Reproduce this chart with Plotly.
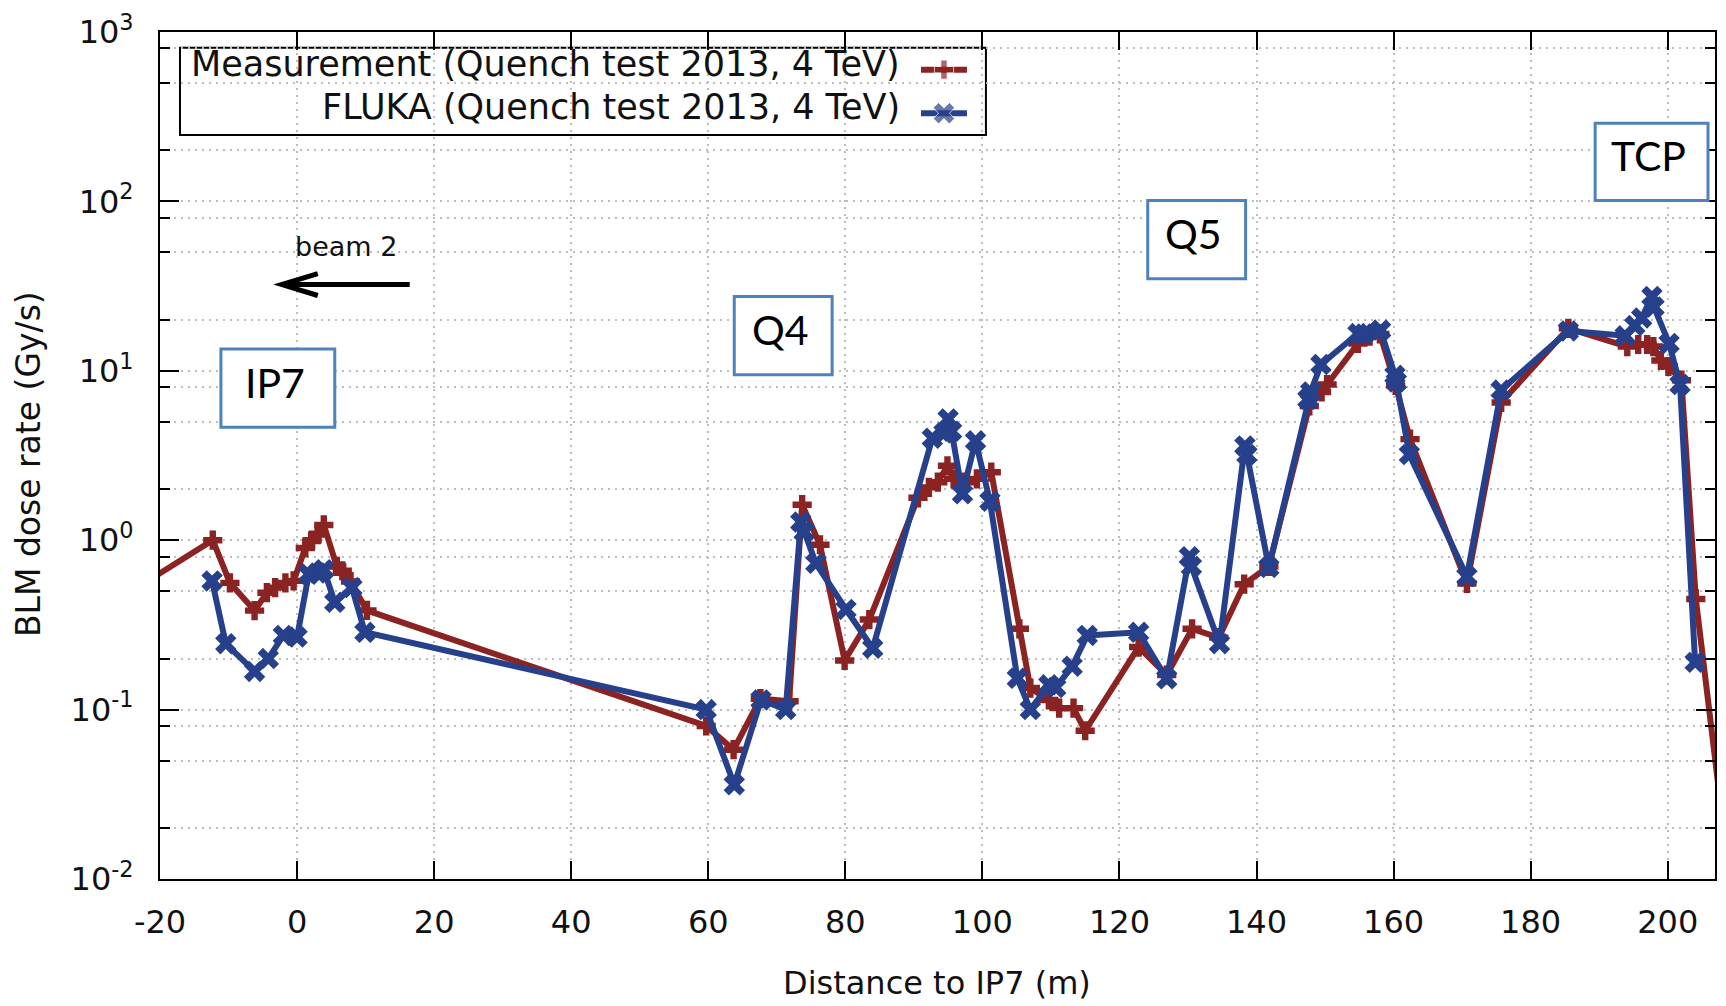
import plotly.graph_objects as go

# ---------------------------------------------------------------------------
# BLM dose rates along the LHC straight section around IP7 (beam 2 quench test)
# ---------------------------------------------------------------------------

# Measurement: BLM position (m from IP7) and dose rate (Gy/s)
meas_s = [-22.0, -12.3, -9.8, -6.2, -4.4, -3.2, -1.7, -0.5, 1.2, 2.2, 3.0, 3.9,
          5.8, 6.6, 7.8, 10.2, 59.7, 63.7, 67.6, 71.8, 73.7, 76.3, 79.9, 83.5,
          90.6, 92.2, 93.5, 94.9, 95.8, 97.5, 99.2, 101.3, 105.4, 107.0, 109.7,
          111.2, 113.3, 115.0, 122.8, 126.9, 130.6, 134.5, 138.2, 141.8, 147.7,
          149.5, 150.3, 154.8, 156.5, 158.0, 160.3, 162.4, 170.7, 175.7, 185.5,
          194.1, 195.7, 197.0, 197.9, 199.0, 200.1, 202.0, 204.1, 208.5]
meas_dose = [0.567, 1.0, 0.56, 0.384, 0.49, 0.525, 0.56, 0.575, 0.90, 1.0, 1.08, 1.23,
             0.70, 0.66, 0.57, 0.385, 0.08, 0.058, 0.116, 0.112, 1.62, 0.94, 0.195, 0.34,
             1.78, 2.05, 2.2, 2.75, 2.3, 2.2, 2.3, 2.52, 0.30, 0.134, 0.114,
             0.102, 0.102, 0.075, 0.234, 0.16, 0.30, 0.266, 0.55, 0.70, 6.2,
             7.5, 8.3, 14.5, 16.0, 16.5, 8.2, 3.95, 0.555, 6.5, 17.8,
             13.9, 14.3, 14.3, 13.9, 11.5, 10.6, 8.8, 0.45, 0.015]

# FLUKA simulation: BLM position (m from IP7) and dose rate (Gy/s)
fluka_s = [-12.4, -10.4, -6.2, -4.2, -2.0, 0.0, 1.7, 3.0, 3.9, 5.5, 8.0, 9.9,
           59.7, 63.8, 67.7, 71.3, 73.5, 74.0, 75.7, 80.1, 84.0,
           92.7, 94.4, 95.0, 95.5, 97.1, 99.0, 101.1, 105.1, 107.0, 109.7, 110.7,
           113.1, 115.3, 122.8, 126.9, 130.2, 130.5, 134.6, 138.3, 138.6, 141.8,
           147.5, 147.9, 149.4, 154.8, 155.7, 158.1, 160.2, 160.4, 162.3, 170.7,
           175.7, 185.5, 193.8, 195.2, 196.2, 197.7, 198.0, 200.2, 201.8, 204.0]
fluka_dose = [0.575, 0.245, 0.168, 0.20, 0.274, 0.268, 0.63, 0.64, 0.67, 0.43, 0.525, 0.286,
              0.10, 0.036, 0.114, 0.10, 1.28, 1.12, 0.73, 0.39, 0.23,
              4.0, 4.3, 5.2, 4.4, 1.88, 3.86, 1.7, 0.153, 0.10, 0.14, 0.135,
              0.18, 0.274, 0.286, 0.152, 0.80, 0.70, 0.245, 3.6, 3.2, 0.69,
              6.8, 7.5, 10.9, 16.6, 16.5, 17.4, 9.4, 8.6, 3.2, 0.61,
              7.7, 17.2, 16.1, 18.5, 20.5, 27.5, 23.8, 14.5, 8.3, 0.19]

series_names = ["Measurement (Quench test 2013, 4 TeV)",
                "FLUKA (Quench test 2013, 4 TeV)"]

x_ticks = list(range(-20, 201, 20))
x_tick_text = [str(v) for v in x_ticks]
y_exponents = [-2, -1, 0, 1, 2, 3]
y_tick_vals = [10.0 ** e for e in y_exponents]
y_tick_text = ["10<sup>%d</sup>" % e for e in y_exponents]
y_minor_vals = [m * 10.0 ** e for e in range(-2, 3) for m in (2, 5, 8)]

# element labels placed along the beam line
element_labels = ["IP7", "Q4", "Q5", "TCP"]

# ---------------------------------------------------------------------------
# styling / geometry
# ---------------------------------------------------------------------------
RED = "#8b2323"
BLUE = "#27408b"
GRID = "#bdbdbd"
BOX_BLUE = "#4f81bd"
FONT = "DejaVu Sans"

W, H = 1726, 1006
L, R, T, B = 160, 1717, 24, 879   # plot area edges (px)


def fx(px):
    """pixel column -> paper x"""
    return (px - L) / (R - L)


def fy(py):
    """pixel row -> paper y"""
    return (B - py) / (B - T)


fig = go.Figure()

fig.add_trace(go.Scatter(
    x=meas_s, y=meas_dose, mode="lines+markers", name=series_names[0],
    line=dict(color=RED, width=6),
    marker=dict(symbol="cross", size=16, color=RED),
    showlegend=False,
))
fig.add_trace(go.Scatter(
    x=fluka_s, y=fluka_dose, mode="lines+markers", name=series_names[1],
    line=dict(color=BLUE, width=6),
    marker=dict(symbol="x", size=19, color=BLUE),
    showlegend=False,
))

# key samples drawn on an overlay frame spanning the plot area (0..1)
key_rows = [62, 106]
key_styles = [(RED, "cross", 16), (BLUE, "x", 19)]
for row, (col, sym, sz) in zip(key_rows, key_styles):
    fig.add_trace(go.Scatter(
        x=[fx(922), fx(945), fx(968)], y=[fy(row)] * 3,
        xaxis="x2", yaxis="y2", mode="lines+markers",
        line=dict(color=col, width=6),
        marker=dict(symbol=sym, size=[0, sz, 0], color=col),
        showlegend=False, hoverinfo="skip",
    ))

shapes = []
annotations = []

# key frame (between grid and traces so the key samples stay visible)
shapes.append(dict(type="rect", xref="paper", yref="paper",
                   x0=fx(180), x1=fx(987), y0=fy(128), y1=fy(40),
                   line=dict(color="black", width=2), fillcolor="white",
                   layer="between"))
for row, name in zip(key_rows, series_names):
    annotations.append(dict(xref="paper", yref="paper", x=fx(903), y=fy(row - 6),
                            xanchor="right", yanchor="middle", showarrow=False,
                            text=name, font=dict(family=FONT, size=35, color="#111")))

# element label boxes
label_boxes = [(221, 335, 344, 423), (735, 833, 291, 370),
               (1149, 1247, 194, 273), (1597, 1710, 116, 194)]
for text, (x0, x1, y0, y1) in zip(element_labels, label_boxes):
    shapes.append(dict(type="rect", xref="paper", yref="paper",
                       x0=fx(x0), x1=fx(x1), y0=fy(y1), y1=fy(y0),
                       line=dict(color=BOX_BLUE, width=3), fillcolor="white",
                       layer="above"))
    annotations.append(dict(xref="paper", yref="paper",
                            x=fx((x0 + x1) / 2 - 3), y=fy((y0 + y1) / 2 - 6),
                            xanchor="center", yanchor="middle", showarrow=False,
                            text=text, font=dict(family="Lato", size=41, color="black")))

# beam direction arrow
tip_x, tail_x, arr_y = 282, 410, 279
shapes.append(dict(type="line", xref="paper", yref="paper",
                   x0=fx(tail_x), x1=fx(tip_x + 2), y0=fy(arr_y), y1=fy(arr_y),
                   line=dict(color="black", width=5)))
shapes.append(dict(type="path", xref="paper", yref="paper",
                   path="M %f,%f L %f,%f L %f,%f" % (
                       fx(318), fy(268), fx(tip_x), fy(arr_y), fx(318), fy(290)),
                   line=dict(color="black", width=5)))
annotations.append(dict(xref="paper", yref="paper", x=fx(346), y=fy(241),
                        xanchor="center", yanchor="middle", showarrow=False,
                        text="beam 2", font=dict(family=FONT, size=27, color="#111")))

# axis titles
annotations.append(dict(xref="paper", yref="paper", x=fx(938), y=fy(984),
                        xanchor="center", yanchor="middle", showarrow=False,
                        text="Distance to IP7 (m)",
                        font=dict(family=FONT, size=32, color="#111")))
annotations.append(dict(xref="paper", yref="paper", x=fx(29), y=fy(460),
                        xanchor="center", yanchor="middle", showarrow=False,
                        textangle=-90, text="BLM dose rate (Gy/s)",
                        font=dict(family=FONT, size=33, color="#111")))

fig.update_layout(
    width=W, height=H,
    margin=dict(l=L, r=W - R, t=T, b=H - B, pad=0),
    paper_bgcolor="white", plot_bgcolor="white",
    showlegend=False,
    xaxis=dict(
        range=[-20, 206.9], tickmode="array", tickvals=x_ticks, ticktext=x_tick_text,
        ticks="inside", ticklen=18, tickwidth=2, tickcolor="black",
        showline=True, linecolor="black", linewidth=2, mirror="ticks",
        showgrid=True, gridcolor=GRID, gridwidth=1.5, griddash="2px,5px",
        zeroline=False, ticklabelstandoff=14,
        tickfont=dict(family=FONT, size=32, color="#111"),
    ),
    yaxis=dict(
        type="log", range=[-2, 3], tickmode="array",
        tickvals=y_tick_vals, ticktext=y_tick_text,
        ticks="inside", ticklen=19, tickwidth=2, tickcolor="black",
        showline=True, linecolor="black", linewidth=2, mirror="ticks",
        showgrid=True, gridcolor=GRID, gridwidth=1.5, griddash="2px,5px",
        zeroline=False, ticklabelstandoff=18,
        tickfont=dict(family=FONT, size=32, color="#111"),
        minor=dict(tickmode="array", tickvals=y_minor_vals, ticks="inside",
                   ticklen=10, tickwidth=2, tickcolor="black",
                   showgrid=True, gridcolor=GRID, gridwidth=1.5,
                   griddash="2px,5px"),
    ),
    xaxis2=dict(overlaying="x", range=[0, 1], visible=False, fixedrange=True),
    yaxis2=dict(overlaying="y", range=[0, 1], visible=False, fixedrange=True),
    shapes=shapes,
    annotations=annotations,
)

fig.write_html("out.html", config={"displayModeBar": False})
